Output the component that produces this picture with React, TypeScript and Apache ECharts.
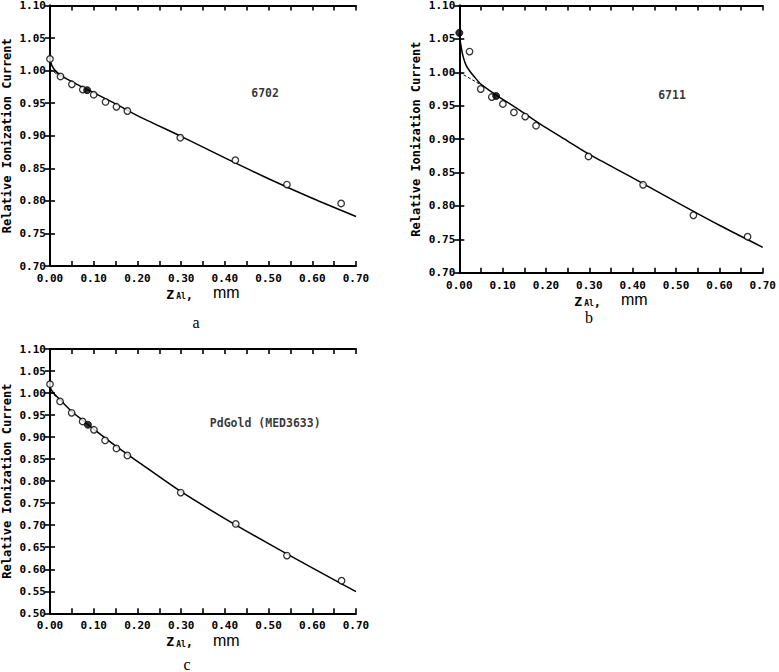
import React, { useEffect, useRef } from "react";
import * as echarts from "echarts";

// ---- Data ----
// Panel a (6702)
const aPointX = [0, 0.024, 0.05, 0.075, 0.1, 0.127, 0.152, 0.177, 0.298, 0.424, 0.542, 0.666];
const aPointY = [1.018, 0.991, 0.979, 0.971, 0.963, 0.952, 0.9445, 0.938, 0.897, 0.8625, 0.825, 0.796];
const aFilledX = [0.085];
const aFilledY = [0.970];
const aCurveX = [0, 0.005, 0.012, 0.024, 0.05, 0.085, 0.1, 0.15, 0.2, 0.3, 0.4, 0.5, 0.6, 0.7];
const aCurveY = [1.016, 1.007, 1.0, 0.993, 0.983, 0.971, 0.966, 0.949, 0.931, 0.899, 0.866, 0.834, 0.804, 0.776];
const aDashX = [0, 0.024];
const aDashY = [1.002, 0.991];

// Panel b (6711)
const bPointX = [0.0236, 0.0495, 0.075, 0.1005, 0.126, 0.152, 0.177, 0.298, 0.424, 0.54, 0.665];
const bPointY = [1.031, 0.975, 0.963, 0.9526, 0.94, 0.9337, 0.92, 0.874, 0.8316, 0.786, 0.754];
const bFilledX = [0, 0.085];
const bFilledY = [1.059, 0.9645];
const bCurveX = [0, 0.003, 0.009, 0.016, 0.024, 0.035, 0.05, 0.065, 0.085, 0.14, 0.185, 0.25, 0.3, 0.4, 0.5, 0.6, 0.7];
const bCurveY = [1.058, 1.043, 1.023, 1.01, 1.002, 0.993, 0.982, 0.975, 0.966, 0.943, 0.923, 0.897, 0.877, 0.842, 0.806, 0.771, 0.738];
const bDashX = [0, 0.048];
const bDashY = [1.0, 0.982];

// Panel c (PdGold MED3633)
const cPointX = [0, 0.023, 0.0495, 0.0746, 0.1005, 0.126, 0.152, 0.177, 0.299, 0.425, 0.542, 0.667];
const cPointY = [1.02, 0.981, 0.955, 0.9355, 0.9166, 0.8925, 0.8743, 0.8585, 0.774, 0.703, 0.631, 0.574];
const cFilledX = [0.0868];
const cFilledY = [0.928];
const cCurveX = [0, 0.005, 0.01, 0.025, 0.05, 0.075, 0.1, 0.15, 0.2, 0.3, 0.4, 0.5, 0.6, 0.7];
const cCurveY = [1.013, 1.004, 0.998, 0.983, 0.958, 0.938, 0.918, 0.88, 0.845, 0.776, 0.715, 0.658, 0.603, 0.549];
const cDashX = [0, 0.02];
const cDashY = [1.004, 0.987];

const panelLabels = ["6702", "6711", "PdGold (MED3633)"];
const labelX = [0.492, 0.4907, 0.4923];
const labelY = [0.966, 0.9655, 0.9327];
const yMins = [0.7, 0.7, 0.5];
const yMaxs = [1.1, 1.1, 1.1];
const xMin = 0;
const xMax = 0.7;
const captions = ["a", "b", "c"];

const zip = (xs: number[], ys: number[]) => xs.map((x, i) => [x, ys[i]]);

const MONO = '"DejaVu Sans Mono", monospace';

export default function App() {
  const ref = useRef<HTMLDivElement>(null);
  useEffect(() => {
    if (!ref.current) return;
    const chart = echarts.init(ref.current, undefined, { renderer: "svg" });

    const grids = [
      { left: 50, top: 4.5, width: 306, height: 261.5 },
      { left: 459.3, top: 4.7, width: 307, height: 268 },
      { left: 49.3, top: 349, width: 306.7, height: 264.3 },
    ];

    const panels = [
      { pts: zip(aPointX, aPointY), filled: zip(aFilledX, aFilledY), curve: zip(aCurveX, aCurveY), dash: zip(aDashX, aDashY) },
      { pts: zip(bPointX, bPointY), filled: zip(bFilledX, bFilledY), curve: zip(bCurveX, bCurveY), dash: zip(bDashX, bDashY) },
      { pts: zip(cPointX, cPointY), filled: zip(cFilledX, cFilledY), curve: zip(cCurveX, cCurveY), dash: zip(cDashX, cDashY) },
    ];

    const lineStyle = { color: "#000", width: 2 };
    const tickStyle = { color: "#000", width: 1.6 };

    const xAxes: any[] = [];
    const yAxes: any[] = [];
    const series: any[] = [];

    grids.forEach((g, i) => {
      xAxes.push({
        type: "value",
        gridIndex: i,
        min: xMin,
        max: xMax,
        interval: 0.05,
        position: "bottom",
        axisLine: { show: true, lineStyle },
        axisTick: { show: true, inside: true, length: 5, lineStyle: tickStyle },
        splitLine: { show: false },
        axisLabel: {
          show: true,
          margin: 7,
          showMinLabel: true,
          showMaxLabel: true,
          color: "#000",
          fontFamily: MONO,
          fontWeight: "bold",
          fontSize: 11,
          formatter: (v: number) => (Math.round(v * 100) % 10 === 0 ? v.toFixed(2) : ""),
        },
        name: "{z|Z}{s|Al}{p|,}{m|mm}",
        nameLocation: "middle",
        nameGap: 16,
        nameTextStyle: {
          color: "#000",
          rich: {
            z: { fontFamily: MONO, fontWeight: "bold", fontSize: 13, color: "#000", verticalAlign: "bottom" },
            s: { fontFamily: MONO, fontWeight: "bold", fontSize: 8, color: "#000", padding: [0, 0, 0, 2], verticalAlign: "bottom", lineHeight: 10 },
            p: { fontFamily: MONO, fontWeight: "bold", fontSize: 12, color: "#000", verticalAlign: "bottom" },
            m: { fontFamily: '"Liberation Sans", Arial, sans-serif', fontSize: 16, color: "#000", padding: [0, 0, 0, 20], verticalAlign: "bottom" },
          },
        },
      });
      xAxes.push({
        type: "value",
        gridIndex: i,
        min: xMin,
        max: xMax,
        interval: 0.05,
        position: "top",
        axisLine: { show: true, lineStyle },
        axisTick: { show: true, inside: true, length: 5, lineStyle: tickStyle },
        splitLine: { show: false },
        axisLabel: { show: false },
      });
      yAxes.push({
        type: "value",
        gridIndex: i,
        min: yMins[i],
        max: yMaxs[i],
        interval: 0.05,
        position: "left",
        axisLine: { show: true, lineStyle },
        axisTick: { show: true, inside: true, length: 5, lineStyle: tickStyle },
        splitLine: { show: false },
        axisLabel: {
          show: true,
          margin: 4,
          showMinLabel: true,
          showMaxLabel: true,
          color: "#000",
          fontFamily: MONO,
          fontWeight: "bold",
          fontSize: 11,
          formatter: (v: number) => v.toFixed(2),
        },
        name: "Relative Ionization Current",
        nameLocation: "middle",
        nameRotate: 90,
        nameGap: 37,
        nameTextStyle: { color: "#000", fontFamily: MONO, fontWeight: "bold", fontSize: 12 },
      });
      yAxes.push({
        type: "value",
        gridIndex: i,
        min: yMins[i],
        max: yMaxs[i],
        interval: 0.05,
        position: "right",
        axisLine: { show: true, lineStyle },
        axisTick: { show: true, inside: true, length: 5, lineStyle: tickStyle },
        splitLine: { show: false },
        axisLabel: { show: false },
      });

      const p = panels[i];
      series.push({
        type: "line",
        xAxisIndex: 2 * i,
        yAxisIndex: 2 * i,
        data: p.curve,
        showSymbol: false,
        symbol: "none",
        smooth: 0.25,
        lineStyle: { color: "#000", width: 1.5 },
        silent: true,
        z: 3,
      });
      series.push({
        type: "line",
        xAxisIndex: 2 * i,
        yAxisIndex: 2 * i,
        data: p.dash,
        symbol: "none",
        lineStyle: { color: "#000", width: 1, type: [3, 2] },
        silent: true,
        z: 3,
      });
      series.push({
        type: "scatter",
        xAxisIndex: 2 * i,
        yAxisIndex: 2 * i,
        data: p.pts,
        symbol: "circle",
        symbolSize: 6.5,
        itemStyle: { color: "#fff", borderColor: "#000", borderWidth: 1.3 },
        silent: true,
        z: 4,
      });
      series.push({
        type: "scatter",
        xAxisIndex: 2 * i,
        yAxisIndex: 2 * i,
        data: p.filled,
        symbol: "circle",
        symbolSize: 7,
        itemStyle: { color: "#000", borderColor: "#000", borderWidth: 1 },
        silent: true,
        z: 5,
      });
      series.push({
        type: "scatter",
        xAxisIndex: 2 * i,
        yAxisIndex: 2 * i,
        data: [[labelX[i], labelY[i]]],
        symbolSize: 0,
        silent: true,
        label: {
          show: true,
          position: "inside",
          formatter: panelLabels[i],
          color: "#000",
          fontFamily: MONO,
          fontWeight: "bold",
          fontSize: 11.5,
        },
        z: 6,
      });
    });

    const capPos = [
      [196, 322, "middle"],
      [589, 317, "middle"],
      [187, 672, "bottom"],
    ];

    chart.setOption({
      animation: false,
      backgroundColor: "#fff",
      grid: grids,
      xAxis: xAxes,
      yAxis: yAxes,
      series,
      graphic: captions.map((c, i) => ({
        type: "text",
        x: capPos[i][0],
        y: capPos[i][1],
        style: {
          text: c,
          fill: "#000",
          font: '16px "Liberation Serif", "DejaVu Serif", serif',
          textAlign: "center",
          textVerticalAlign: capPos[i][2],
          align: "center",
          verticalAlign: capPos[i][2],
        },
      })),
    });

    return () => chart.dispose();
  }, []);

  return (
    <div
      ref={ref}
      style={{ position: "absolute", left: 0, top: 0, width: 779, height: 672, background: "#fff" }}
    />
  );
}
